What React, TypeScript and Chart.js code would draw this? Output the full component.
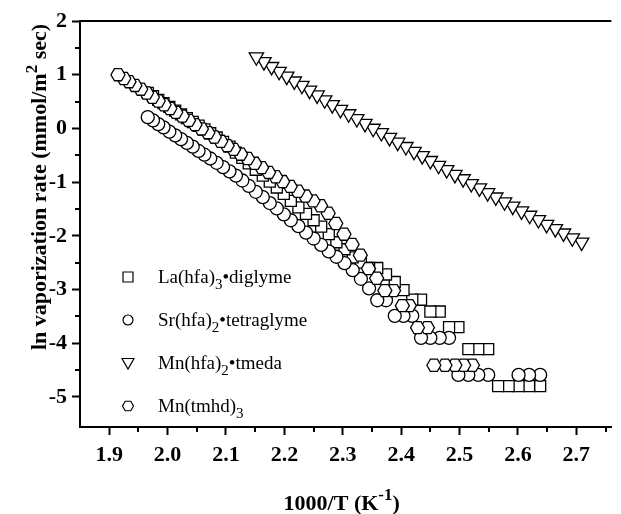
import { useEffect, useRef } from 'react';
import { Chart, registerables } from 'chart.js';

Chart.register(...registerables);

// 1000/T (K^-1) and ln(vaporization rate) for each precursor
const laHfaX = [1.966, 1.975, 1.984, 1.993, 2.003, 2.013, 2.023, 2.033, 2.043, 2.053, 2.063, 2.073, 2.084, 2.095, 2.106, 2.117, 2.128, 2.139, 2.151, 2.163, 2.175, 2.187, 2.199, 2.211, 2.224, 2.237, 2.25, 2.263, 2.276, 2.289, 2.303, 2.317, 2.331, 2.345, 2.359, 2.374, 2.389, 2.404, 2.419, 2.434, 2.45, 2.466, 2.482, 2.498, 2.515, 2.532, 2.549, 2.566, 2.584, 2.601, 2.619, 2.638];
const laHfaY = [0.66, 0.6, 0.53, 0.47, 0.4, 0.33, 0.26, 0.19, 0.12, 0.05, -0.02, -0.09, -0.17, -0.25, -0.34, -0.45, -0.55, -0.65, -0.77, -0.88, -0.99, -1.1, -1.22, -1.35, -1.47, -1.59, -1.71, -1.83, -1.97, -2.12, -2.25, -2.4, -2.5, -2.6, -2.6, -2.72, -2.86, -3.01, -3.19, -3.19, -3.41, -3.41, -3.7, -3.7, -4.11, -4.11, -4.11, -4.8, -4.8, -4.8, -4.8, -4.8];

const srHfaX = [1.966, 1.975, 1.984, 1.993, 2.003, 2.013, 2.023, 2.033, 2.043, 2.053, 2.063, 2.073, 2.084, 2.095, 2.106, 2.117, 2.128, 2.139, 2.151, 2.163, 2.175, 2.187, 2.199, 2.211, 2.224, 2.237, 2.25, 2.263, 2.276, 2.289, 2.303, 2.317, 2.331, 2.345, 2.359, 2.374, 2.389, 2.404, 2.419, 2.434, 2.45, 2.466, 2.482, 2.498, 2.515, 2.532, 2.549, 2.601, 2.619, 2.638];
const srHfaY = [0.21, 0.15, 0.08, 0.02, -0.06, -0.13, -0.2, -0.27, -0.34, -0.42, -0.49, -0.56, -0.64, -0.72, -0.8, -0.88, -0.97, -1.07, -1.18, -1.28, -1.39, -1.49, -1.6, -1.71, -1.82, -1.94, -2.05, -2.17, -2.29, -2.39, -2.51, -2.64, -2.8, -2.98, -3.2, -3.2, -3.49, -3.49, -3.49, -3.9, -3.9, -3.9, -3.9, -4.59, -4.59, -4.59, -4.59, -4.59, -4.59, -4.59];

const mnHfaX = [2.152, 2.165, 2.178, 2.191, 2.204, 2.217, 2.23, 2.243, 2.256, 2.269, 2.282, 2.296, 2.31, 2.324, 2.338, 2.352, 2.366, 2.38, 2.394, 2.408, 2.422, 2.436, 2.45, 2.464, 2.478, 2.492, 2.506, 2.52, 2.534, 2.548, 2.562, 2.577, 2.591, 2.606, 2.62, 2.635, 2.649, 2.664, 2.678, 2.693, 2.709];
const mnHfaY = [1.33, 1.24, 1.15, 1.06, 0.97, 0.88, 0.8, 0.71, 0.62, 0.53, 0.44, 0.35, 0.27, 0.18, 0.09, 0.0, -0.08, -0.17, -0.26, -0.34, -0.43, -0.51, -0.6, -0.69, -0.77, -0.86, -0.94, -1.03, -1.11, -1.2, -1.28, -1.37, -1.45, -1.54, -1.62, -1.7, -1.79, -1.87, -1.95, -2.04, -2.12];

const mnTmhdX = [1.915, 1.925, 1.934, 1.944, 1.954, 1.964, 1.974, 1.984, 1.994, 2.004, 2.014, 2.025, 2.036, 2.047, 2.058, 2.069, 2.08, 2.091, 2.102, 2.113, 2.125, 2.137, 2.149, 2.161, 2.173, 2.185, 2.197, 2.21, 2.223, 2.236, 2.249, 2.262, 2.275, 2.288, 2.302, 2.316, 2.33, 2.344, 2.358, 2.372, 2.387, 2.402, 2.414, 2.428, 2.445, 2.456, 2.475, 2.492, 2.507, 2.522];
const mnTmhdY = [1.0, 0.93, 0.87, 0.8, 0.73, 0.66, 0.58, 0.51, 0.44, 0.37, 0.3, 0.23, 0.15, 0.07, -0.01, -0.08, -0.16, -0.24, -0.32, -0.39, -0.48, -0.56, -0.65, -0.73, -0.82, -0.9, -0.99, -1.08, -1.17, -1.26, -1.35, -1.44, -1.58, -1.77, -1.97, -2.16, -2.36, -2.61, -2.79, -3.02, -3.02, -3.3, -3.3, -3.71, -3.71, -4.41, -4.41, -4.41, -4.41, -4.41];

const X_MIN = 1.85;
const X_MAX = 2.76;
const X_STEP = 0.1;
const Y_MIN = -5.56;
const Y_MAX = 2;
const Y_STEP = 1;

type Marker = 'square' | 'circle' | 'triangle' | 'hexagon';

// legend entries: formula, subscript, remainder
const legendNames: [string, string, string][] = [
  ['La(hfa)', '3', '•diglyme'],
  ['Sr(hfa)', '2', '•tetraglyme'],
  ['Mn(hfa)', '2', '•tmeda'],
  ['Mn(tmhd)', '3', ''],
];
const legendMarkers: Marker[] = ['square', 'circle', 'triangle', 'hexagon'];

const HEX_LABEL = 'Mn(tmhd)3';
const SERIF = '"Liberation Serif", "Times New Roman", serif';

function hexPath(ctx: CanvasRenderingContext2D, cx: number, cy: number, r: number) {
  ctx.beginPath();
  for (let k = 0; k < 6; k++) {
    const a = (Math.PI / 3) * k;
    const px = cx + r * Math.cos(a);
    const py = cy + r * Math.sin(a);
    if (k === 0) ctx.moveTo(px, py);
    else ctx.lineTo(px, py);
  }
  ctx.closePath();
}

type Run = { text: string; size: number; weight: string; dy: number };

function drawRuns(ctx: CanvasRenderingContext2D, runs: Run[], x: number, y: number, center: boolean) {
  let total = 0;
  for (const r of runs) {
    ctx.font = `${r.weight} ${r.size}px ${SERIF}`;
    total += ctx.measureText(r.text).width;
  }
  let cx = center ? x - total / 2 : x;
  ctx.textAlign = 'left';
  ctx.textBaseline = 'alphabetic';
  for (const r of runs) {
    ctx.font = `${r.weight} ${r.size}px ${SERIF}`;
    ctx.fillText(r.text, cx, y + r.dy);
    cx += ctx.measureText(r.text).width;
  }
}

function drawLegendMarker(ctx: CanvasRenderingContext2D, m: Marker, x: number, y: number) {
  ctx.beginPath();
  if (m === 'square') {
    ctx.rect(x - 5, y - 5, 10, 10);
  } else if (m === 'circle') {
    ctx.arc(x, y, 5, 0, Math.PI * 2);
  } else if (m === 'triangle') {
    ctx.moveTo(x - 6, y - 4.5);
    ctx.lineTo(x + 6, y - 4.5);
    ctx.lineTo(x, y + 6);
    ctx.closePath();
  } else {
    hexPath(ctx, x, y, 5.5);
  }
  ctx.fillStyle = '#fff';
  ctx.fill();
  ctx.stroke();
}

// Chart.js has no hexagon point style: the Mn(tmhd)3 points are stroked here,
// at the positions the scatter controller computed, in the dataset's own layer.
const hexPointPlugin = {
  id: 'hexPoints',
  afterDatasetDraw(chart: any, args: any) {
    const ds = chart.data.datasets[args.index];
    if (ds.label !== HEX_LABEL) return;
    const ctx: CanvasRenderingContext2D = chart.ctx;
    ctx.save();
    ctx.lineWidth = 1.3;
    ctx.strokeStyle = '#000';
    ctx.fillStyle = '#fff';
    for (const el of args.meta.data) {
      hexPath(ctx, el.x, el.y, 7);
      ctx.fill();
      ctx.stroke();
    }
    ctx.restore();
  },
};

const framePlugin = {
  id: 'frameAndText',
  afterDraw(chart: any) {
    const { ctx, chartArea: a, scales } = chart;
    const xs = scales.x;
    const ys = scales.y;
    ctx.save();
    ctx.strokeStyle = '#000';
    ctx.fillStyle = '#000';

    // top frame line
    ctx.lineWidth = 2;
    ctx.beginPath();
    ctx.moveTo(a.left - 1, a.top);
    ctx.lineTo(a.right, a.top);
    ctx.stroke();

    // minor ticks halfway between the labelled ones
    const xt = xs.ticks.map((t: any) => t.value);
    const yt = ys.ticks.map((t: any) => t.value);
    ctx.lineWidth = 2;
    ctx.beginPath();
    for (let i = 0; i < xt.length; i++) {
      const v = xt[i] + X_STEP / 2;
      if (v < X_MAX) {
        const px = Math.round(xs.getPixelForValue(v));
        ctx.moveTo(px, a.bottom);
        ctx.lineTo(px, a.bottom + 5);
      }
    }
    for (let i = 1; i < yt.length; i++) {
      const v = yt[i] - Y_STEP / 2;
      const py = Math.round(ys.getPixelForValue(v));
      ctx.moveTo(a.left, py);
      ctx.lineTo(a.left - 5, py);
    }
    ctx.stroke();

    // axis titles
    drawRuns(
      ctx,
      [
        { text: '1000/T (K', size: 22, weight: 'bold', dy: 0 },
        { text: '-1', size: 17, weight: 'bold', dy: -10 },
        { text: ')', size: 22, weight: 'bold', dy: 0 },
      ],
      (a.left + a.right) / 2 - 4,
      510,
      true,
    );
    ctx.save();
    ctx.translate(46, a.top + 166);
    ctx.rotate(-Math.PI / 2);
    drawRuns(
      ctx,
      [
        { text: 'ln vaporization rate (mmol/m', size: 22, weight: 'bold', dy: 0 },
        { text: '2', size: 17, weight: 'bold', dy: -9 },
        { text: ' sec)', size: 22, weight: 'bold', dy: 0 },
      ],
      0,
      0,
      true,
    );
    ctx.restore();

    // legend
    ctx.lineWidth = 1.2;
    const rowTop = a.top + 256;
    const rowGap = 43;
    legendNames.forEach(([name, sub, tail], i) => {
      const cy = rowTop + i * rowGap;
      drawLegendMarker(ctx, legendMarkers[i], a.left + 48, cy);
      ctx.fillStyle = '#000';
      drawRuns(
        ctx,
        [
          { text: name, size: 19, weight: 'normal', dy: 0 },
          { text: sub, size: 15, weight: 'normal', dy: 6 },
          { text: tail, size: 19, weight: 'normal', dy: 0 },
        ],
        a.left + 78,
        cy + 6,
        false,
      );
    });
    ctx.restore();
  },
};

function points(xs: number[], ys: number[]) {
  // drawn from the coldest run back to the hottest one
  return xs.map((x, i) => ({ x, y: ys[i] })).reverse();
}

export default function App() {
  const ref = useRef<HTMLCanvasElement | null>(null);

  useEffect(() => {
    if (!ref.current) return;
    const common = {
      showLine: false,
      pointBorderColor: '#000',
      pointBackgroundColor: '#fff',
      pointBorderWidth: 1.3,
    };
    const tickFont = { family: SERIF, size: 22, weight: 'bold' as const };
    const chart = new Chart(ref.current, {
      type: 'scatter',
      data: {
        datasets: [
          { ...common, label: HEX_LABEL, data: points(mnTmhdX, mnTmhdY), pointStyle: 'circle', pointRadius: 0, order: 0 },
          { ...common, label: 'Sr(hfa)2•tetraglyme', data: points(srHfaX, srHfaY), pointStyle: 'circle', pointRadius: 6.5, order: 1 },
          { ...common, label: 'La(hfa)3•diglyme', data: points(laHfaX, laHfaY), pointStyle: 'rect', pointRadius: 7.8, order: 2 },
          { ...common, label: 'Mn(hfa)2•tmeda', data: points(mnHfaX, mnHfaY), pointStyle: 'triangle', pointRotation: 180, pointRadius: 8.3, order: 3 },
        ],
      },
      options: {
        animation: false,
        responsive: false,
        devicePixelRatio: 1,
        layout: { padding: { top: 21, right: 0, bottom: 0, left: 0 } },
        plugins: { legend: { display: false }, tooltip: { enabled: false } },
        scales: {
          x: {
            type: 'linear',
            min: X_MIN,
            max: X_MAX,
            afterFit: (s: any) => {
              s.height = 87;
            },
            ticks: {
              stepSize: X_STEP,
              includeBounds: false,
              autoSkip: false,
              maxRotation: 0,
              color: '#000',
              font: tickFont,
              padding: 7,
              callback: (v: any) => Number(v).toFixed(1),
            },
            grid: { drawOnChartArea: false, drawTicks: true, tickLength: 8, tickWidth: 2, tickColor: '#000' },
            border: { display: true, color: '#000', width: 2 },
          },
          y: {
            type: 'linear',
            min: Y_MIN,
            max: Y_MAX,
            afterFit: (s: any) => {
              s.width = 80;
            },
            ticks: {
              stepSize: Y_STEP,
              includeBounds: false,
              color: '#000',
              font: tickFont,
              padding: 5,
              callback: (v: any) => String(Math.round(Number(v))),
            },
            grid: { drawOnChartArea: false, drawTicks: true, tickLength: 8, tickWidth: 2, tickColor: '#000' },
            border: { display: true, color: '#000', width: 2 },
          },
        },
      },
      plugins: [hexPointPlugin, framePlugin],
    });
    return () => chart.destroy();
  }, []);

  return (
    <div style={{ position: 'fixed', left: 0, top: 0, width: 621, height: 514, background: '#fff' }}>
      <canvas ref={ref} width={621} height={514} style={{ display: 'block' }} />
    </div>
  );
}
